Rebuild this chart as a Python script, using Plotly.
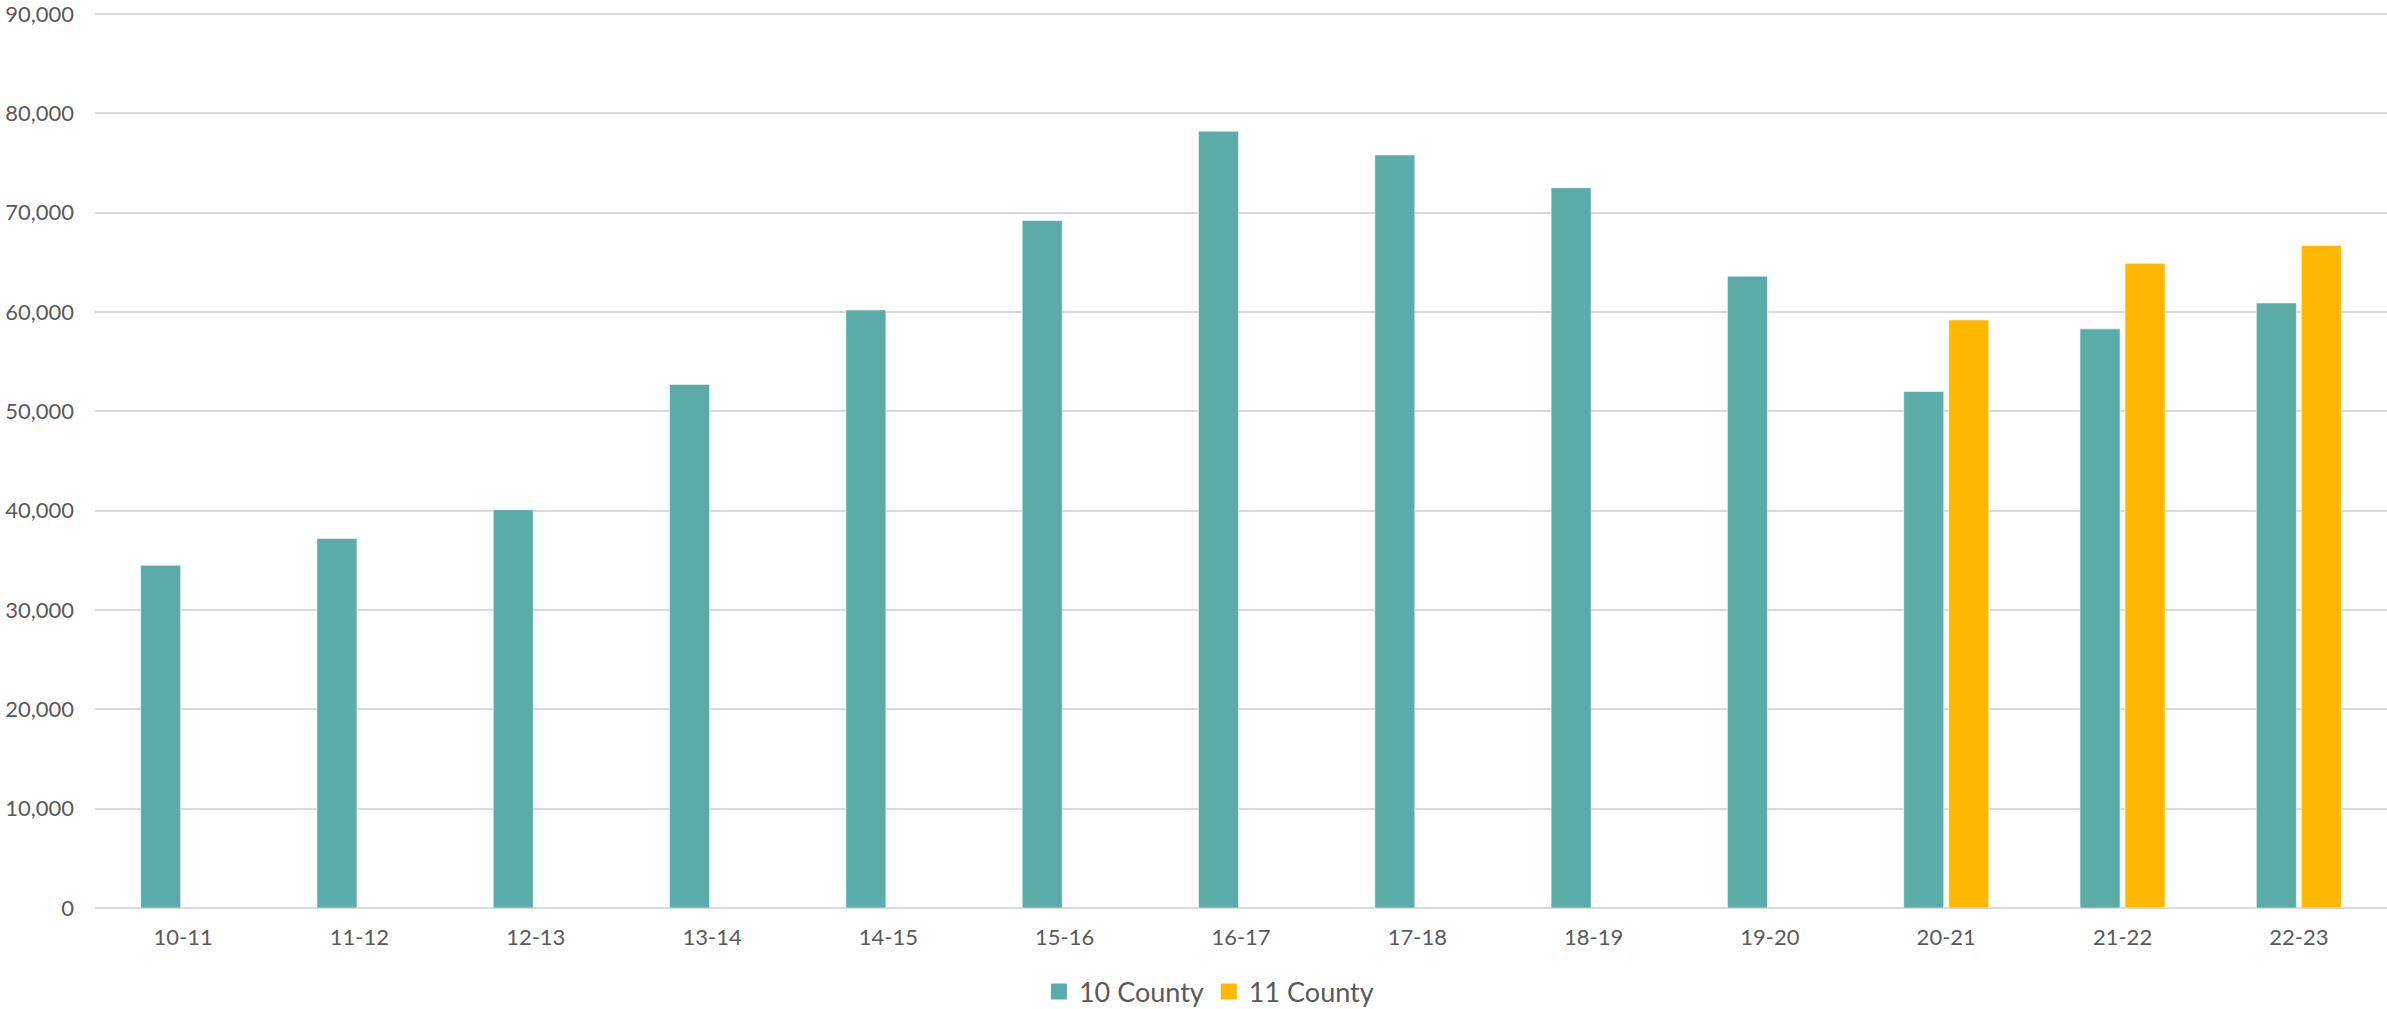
import plotly.graph_objects as go

categories = ["10-11", "11-12", "12-13", "13-14", "14-15", "15-16", "16-17",
              "17-18", "18-19", "19-20", "20-21", "21-22", "22-23"]
county10 = [34500, 37200, 40100, 52700, 60200, 69200, 78200,
            75800, 72500, 63600, 52000, 58300, 60900]
county11 = [None, None, None, None, None, None, None,
            None, None, None, 59200, 64900, 66700]
y_ticks = [0, 10000, 20000, 30000, 40000, 50000, 60000, 70000, 80000, 90000]
series_names = ["10 County", "11 County"]

TEAL = "#5BABA8"
GOLD = "#FFB700"
TEXT = "#595959"
GRID = "#D9D9D9"
FONT = "Lato, 'Noto Sans', sans-serif"

fig = go.Figure()
for name, vals, col in [(series_names[0], county10, TEAL), (series_names[1], county11, GOLD)]:
    fig.add_trace(go.Bar(
        x=categories, y=vals, name=name, showlegend=False,
        marker=dict(color=col, line=dict(color="rgba(255,255,255,0.55)", width=1)),
    ))
# legend entries with larger square swatches
for name, col in [(series_names[0], TEAL), (series_names[1], GOLD)]:
    fig.add_trace(go.Scatter(
        x=[None], y=[None], mode="markers", name=name,
        marker=dict(symbol="square", size=16, color=col),
    ))

fig.update_layout(
    width=2387, height=1009,
    margin=dict(l=95, r=0, t=9, b=101, autoexpand=False),
    paper_bgcolor="white", plot_bgcolor="white",
    barmode="group", bargap=0.4895, bargroupgap=0.111,
    font=dict(family=FONT, color=TEXT, size=22),
    showlegend=True,
    legend=dict(
        orientation="h", x=0.486, xanchor="center", y=-0.0934, yanchor="middle",
        font=dict(family=FONT, size=27, color=TEXT),
        itemwidth=30, traceorder="normal", bgcolor="rgba(0,0,0,0)",
    ),
)
fig.update_xaxes(
    type="category", showgrid=False, showline=False, zeroline=False,
    ticks="", tickfont=dict(family=FONT, size=22, color=TEXT),
    ticklabelstandoff=14,
)
fig.update_yaxes(
    range=[0, 90500], tickvals=y_ticks, tickformat=",d",
    showgrid=True, gridcolor=GRID, gridwidth=1.6,
    zeroline=True, zerolinecolor=GRID, zerolinewidth=1.6,
    showline=False, ticks="", ticklabeloverflow="allow",
    tickfont=dict(family=FONT, size=22, color=TEXT),
    ticklabelstandoff=20,
)

fig.write_html("out.html", config={"displayModeBar": False},
               post_script="document.body.style.margin='0px';")
